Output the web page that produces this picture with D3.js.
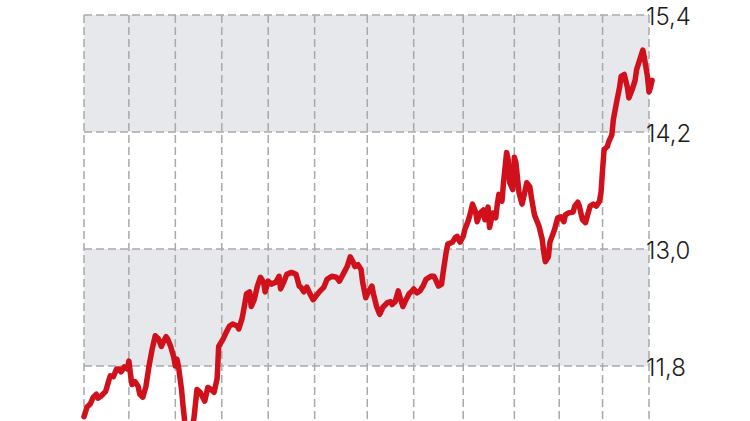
<!DOCTYPE html>
<html>
<head>
<meta charset="utf-8">
<script src="https://cdn.jsdelivr.net/npm/d3@7"></script>
<style>
  html, body { margin: 0; padding: 0; background: #fff; }
  svg { display: block; }
  .tick-label { font-family: Inter, "Open Sans", sans-serif; font-size: 24px; font-weight: 300; fill: #1b1b1b; }
</style>
</head>
<body>
<svg id="chart" width="750" height="421"></svg>
<script>
// day of year for each reading
const days = [0, 2, 4, 6, 8, 9, 11, 14, 16, 17, 19, 21, 23, 24, 26, 28, 29, 30, 31, 33, 35, 36, 38, 40, 42, 44, 46, 48, 50, 51, 53, 54, 56, 58, 59, 60, 61, 63, 64, 65, 68, 71, 73, 75, 78, 80, 82, 84, 86, 87, 90, 92, 94, 96, 99, 100, 102, 103, 105, 107, 108, 110, 112, 114, 116, 117, 119, 121, 124, 126, 127, 129, 131, 134, 137, 139, 140, 142, 144, 146, 148, 150, 152, 155, 157, 160, 163, 165, 168, 170, 172, 174, 175, 177, 179, 180, 182, 184, 186, 187, 189, 191, 193, 196, 198, 199, 201, 203, 205, 206, 208, 210, 212, 213, 215, 217, 219, 221, 224, 226, 227, 229, 231, 232, 234, 235, 238, 240, 241, 243, 245, 246, 248, 249, 251, 253, 254, 256, 258, 259, 261, 262, 264, 266, 267, 268, 270, 271, 273, 274, 275, 277, 278, 279, 281, 283, 284, 286, 288, 289, 291, 294, 296, 297, 298, 300, 301, 304, 306, 308, 310, 311, 313, 316, 317, 319, 320, 322, 324, 325, 327, 329, 331, 333, 334, 335, 336, 338, 339, 341, 342, 344, 346, 347, 349, 351, 352, 354, 356, 357, 359, 361, 362, 364, 365, 366, 367];
const values = [11.28, 11.38, 11.41, 11.48, 11.51, 11.47, 11.49, 11.54, 11.65, 11.70, 11.69, 11.77, 11.77, 11.74, 11.79, 11.77, 11.85, 11.72, 11.61, 11.64, 11.59, 11.51, 11.48, 11.59, 11.80, 11.97, 12.11, 12.08, 12.00, 12.04, 12.10, 12.08, 12.00, 11.89, 11.80, 11.87, 11.80, 11.56, 11.39, 11.24, 11.05, 11.26, 11.56, 11.53, 11.44, 11.58, 11.56, 11.53, 11.67, 12.00, 12.08, 12.15, 12.21, 12.23, 12.21, 12.18, 12.28, 12.36, 12.54, 12.56, 12.41, 12.48, 12.62, 12.71, 12.66, 12.56, 12.67, 12.64, 12.66, 12.72, 12.59, 12.66, 12.74, 12.76, 12.74, 12.62, 12.61, 12.56, 12.61, 12.54, 12.48, 12.52, 12.56, 12.61, 12.69, 12.72, 12.71, 12.67, 12.76, 12.82, 12.92, 12.86, 12.82, 12.84, 12.79, 12.66, 12.50, 12.57, 12.62, 12.54, 12.41, 12.33, 12.40, 12.45, 12.46, 12.43, 12.46, 12.57, 12.46, 12.41, 12.48, 12.54, 12.57, 12.59, 12.55, 12.57, 12.62, 12.69, 12.72, 12.72, 12.69, 12.62, 12.64, 12.76, 12.97, 13.05, 13.07, 13.12, 13.13, 13.07, 13.13, 13.20, 13.28, 13.33, 13.46, 13.38, 13.28, 13.37, 13.40, 13.30, 13.43, 13.22, 13.37, 13.32, 13.46, 13.56, 13.49, 13.68, 13.99, 13.92, 13.68, 13.61, 13.94, 13.89, 13.58, 13.46, 13.53, 13.68, 13.64, 13.53, 13.35, 13.23, 13.10, 12.97, 12.87, 12.92, 13.07, 13.20, 13.32, 13.33, 13.28, 13.35, 13.37, 13.38, 13.44, 13.48, 13.44, 13.30, 13.27, 13.33, 13.44, 13.46, 13.44, 13.49, 13.58, 13.81, 14.02, 14.05, 14.10, 14.17, 14.33, 14.50, 14.66, 14.77, 14.79, 14.66, 14.55, 14.63, 14.73, 14.84, 14.94, 15.04, 14.96, 14.77, 14.61, 14.66, 14.73];

const yTicks = [11.8, 13.0, 14.2, 15.4];
const gridDays = [0, 29, 59, 89, 119, 149, 183, 213, 245, 278, 307, 335, 365];
// shaded ranges of the value axis
const bands = [[11.8, 13.0], [14.2, 15.4]];

const svg = d3.select('#chart');
const width = 750, height = 421;

const x = d3.scaleLinear().domain([0, 365]).range([84, 649]);
const y = d3.scaleLinear().domain([11.8, 15.4]).range([366, 15]);

const fmt = d3.formatLocale({ decimal: ',', thousands: ' ', grouping: [3], currency: ['', ''] }).format('.1f');

// grey bands
svg.append('g').selectAll('rect')
    .data(bands).enter().append('rect')
    .attr('x', x(0)).attr('width', x(365) - x(0))
    .attr('y', d => y(d[1])).attr('height', d => y(d[0]) - y(d[1]))
    .attr('fill', '#e6e8eb');

const grid = svg.append('g')
    .attr('stroke', '#a9a9a9').attr('stroke-width', 1.5)
    .attr('stroke-dasharray', '8,4').attr('fill', 'none');

grid.selectAll('.vline')
    .data(gridDays).enter().append('line')
    .attr('x1', d => x(d)).attr('x2', d => x(d))
    .attr('y1', y(15.4)).attr('y2', height);

grid.selectAll('.hline')
    .data(yTicks).enter().append('line')
    .attr('x1', x(0)).attr('x2', x(365))
    .attr('y1', d => y(d)).attr('y2', d => y(d));

// value labels on the right
svg.append('g').selectAll('text')
    .data(yTicks).enter().append('text')
    .attr('class', 'tick-label')
    .attr('x', x(365) - 3)
    .attr('y', d => y(d) + 10)
    .text(d => fmt(d));

const line = d3.line()
    .x(d => x(d[0]))
    .y(d => y(d[1]));

svg.append('path')
    .datum(days.map((d, i) => [d, values[i]]))
    .attr('d', line)
    .attr('fill', 'none')
    .attr('stroke', '#d0111b')
    .attr('stroke-width', 5.5)
    .attr('stroke-linejoin', 'round')
    .attr('stroke-linecap', 'round');
</script>
</body>
</html>
